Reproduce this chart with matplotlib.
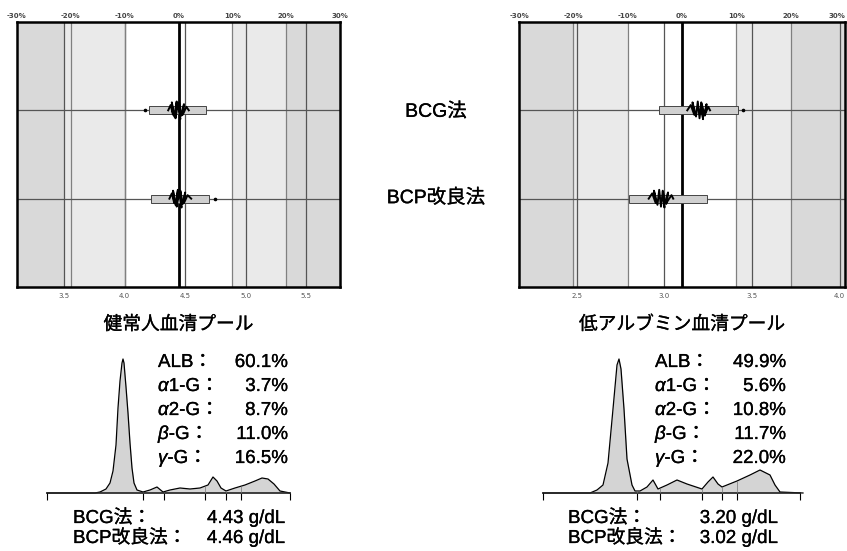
import numpy as np
import matplotlib
matplotlib.use('Agg')
import matplotlib.pyplot as plt
import matplotlib.patches as patches
import matplotlib.patheffects as pe

plt.rcParams['font.family'] = ['Liberation Sans', 'Noto Sans CJK JP']

# ---- data ----
pool_names = ['健常人血清プール', '低アルブミン血清プール']
methods = ['BCG法', 'BCP改良法']
targets = [4.445, 3.10]                     # value at 0 %
pct_ticks = [-30, -20, -10, 0, 10, 20, 30]
pct_lines = [-20, -10, 10, 20]
value_ticks = [[3.5, 4.0, 4.5, 5.0, 5.5], [2.5, 3.0, 3.5, 4.0]]
zones_pct = [[-30, -21.3, -10, 10, 20, 30], [-30, -20, -10, 10, 20, 30]]
zone_colors = ['#d9d9d9', '#eaeaea', 'white', '#eaeaea', '#d9d9d9']

# range boxes (min, max) and outlier, per pool
bcg_box = [(4.20, 4.67), (2.97, 3.42)]
bcp_box = [(4.22, 4.70), (2.80, 3.24)]
bcg_out = [4.17, 3.45]
bcp_out = [4.75, None]
# measured results (cluster) per pool
bcg_runs = [[4.36, 4.38, 4.40, 4.39, 4.41, 4.43, 4.42, 4.44, 4.46, 4.45, 4.47, 4.49, 4.48, 4.51, 4.53],
            [3.13, 3.15, 3.17, 3.16, 3.18, 3.19, 3.20, 3.21, 3.22, 3.21, 3.23, 3.24, 3.23, 3.25, 3.26]]
bcp_runs = [[4.37, 4.39, 4.41, 4.40, 4.42, 4.44, 4.43, 4.45, 4.47, 4.46, 4.48, 4.50, 4.49, 4.52, 4.55],
            [2.91, 2.93, 2.95, 2.94, 2.96, 2.97, 2.98, 2.99, 3.00, 2.99, 3.01, 3.02, 3.01, 3.04, 3.05]]
run_offsets = [0.0, 0.06, -0.05, 0.09, -0.07, 0.10, -0.09, 0.08, -0.10, 0.09, -0.06, 0.07, -0.05, 0.04, 0.0]

# densitometry traces (position, height)
ep_x = [[7, 55, 60, 66, 70, 73, 76, 78, 80, 82, 83, 84, 86, 88, 90, 92, 94, 97, 103, 110, 117, 123,
         130, 140, 150, 160, 168, 173, 177, 181, 186, 195, 205, 215, 222, 228, 234, 240, 250],
        [3, 50, 57, 63, 68, 73, 77, 79, 81, 84, 87, 92, 95, 100, 107, 113, 118, 127, 137, 147, 162,
         168, 173, 178, 182, 197, 210, 220, 230, 235, 240, 263]]
ep_h = [[0, 0, 1, 4, 10, 22, 48, 85, 112, 130, 134, 130, 106, 80, 50, 25, 10, 3, 1, 3, 6, 1,
         3, 5, 4, 5, 8, 16, 12, 5, 2, 5, 8, 12, 15, 14, 9, 2, 0],
        [0, 0, 3, 8, 30, 84, 128, 134, 124, 84, 34, 8, 2, 2, 6, 13, 4, 8, 13, 9, 4,
         11, 16, 9, 6, 12, 18, 23, 18, 8, 1, 0]]
ep_ticks = [[7, 103, 124, 165, 186, 201, 250], [3, 97, 120, 162, 182, 197, 260]]

fractions = ['ALB', 'α1-G', 'α2-G', 'β-G', 'γ-G']
frac_pct = [[60.1, 3.7, 8.7, 11.0, 16.5], [49.9, 5.6, 10.8, 11.7, 22.0]]
bcg_gdl = [4.43, 3.20]
bcp_gdl = [4.46, 3.02]

# ---- layout ----
W, H = 847, 551
fig = plt.figure(figsize=(W / 100, H / 100), dpi=100)
heavy = [pe.withStroke(linewidth=0.2, foreground='black')]


def px_axes(x0, y0, x1, y1):
    return fig.add_axes([x0 / W, 1 - y1 / H, (x1 - x0) / W, (y1 - y0) / H])


panel_px = [(17, 22, 340, 287), (519, 22, 845, 287)]
ep_px = [(40, 350, 300, 503), (540, 350, 810, 503)]
text_x = [(158, 288), (655, 786)]
res_x = [(73, 285), (568, 778)]
FS = 13.5

renderer = fig.canvas.get_renderer()


def put_row(x, y, pieces, size=FS):
    for s, it in pieces:
        t = fig.text(x / W, 1 - y / H, s, fontsize=size, ha='left', va='baseline',
                     style='italic' if it else 'normal', path_effects=heavy)
        x = t.get_window_extent(renderer).x1
    return x


for k in range(2):
    T = targets[k]

    def pv(p):
        return T * (1 + p / 100)

    ax = px_axes(*panel_px[k])
    ax.set_xlim(pv(-30), pv(30))
    ax.set_ylim(0, 3)
    z = zones_pct[k]
    for i in range(5):
        ax.axvspan(pv(z[i]), pv(z[i + 1]), color=zone_colors[i], lw=0, zorder=0)
    for v in value_ticks[k]:
        ax.axvline(v, color='#555555', lw=0.9, zorder=1)
    for p in pct_lines:
        ax.axvline(pv(p), color='#808080', lw=0.9, zorder=1)
    ax.axvline(pv(0), color='black', lw=2, zorder=2)
    for yy in (1, 2):
        ax.axhline(yy, color='#555555', lw=0.9, zorder=1)

    for row, box, out, runs in ((2, bcg_box[k], bcg_out[k], bcg_runs[k]),
                                (1, bcp_box[k], bcp_out[k], bcp_runs[k])):
        ax.add_patch(patches.Rectangle((box[0], row - 0.045), box[1] - box[0], 0.09,
                                       facecolor='#d0d0d0', edgecolor='#444444', lw=0.7, zorder=3))
        if out is not None:
            ax.plot(out, row, 'o', ms=1.6, color='black', zorder=4)
        ax.plot(runs, [row + o for o in run_offsets[:len(runs)]], color='black', lw=1.4, zorder=4)

    ax.set_xticks(value_ticks[k])
    ax.set_xticklabels([f'{v:.1f}' for v in value_ticks[k]], fontsize=5,
                       color='#555555', family='DejaVu Sans')
    ax.tick_params(axis='x', length=0, pad=4)
    ax.set_yticks([])
    for s in ax.spines.values():
        s.set_linewidth(1.8)

    top = ax.twiny()
    top.set_xlim(ax.get_xlim())
    top.set_xticks([pv(p) for p in pct_ticks])
    labels = top.set_xticklabels([f'{p}%' for p in pct_ticks], fontsize=5, color='#444444',
                                 family='DejaVu Sans', weight='bold')
    if k == 1:
        labels[-1].set_horizontalalignment('right')
    top.tick_params(axis='x', length=0, pad=2)
    for s in top.spines.values():
        s.set_visible(False)

    cx = (panel_px[k][0] + panel_px[k][2]) / 2
    fig.text(cx / W, 1 - 325 / H, pool_names[k], fontsize=13.5, ha='center', va='center',
             path_effects=heavy)

    # densitometry trace
    ea = px_axes(*ep_px[k])
    xs, hs = ep_x[k], ep_h[k]
    ea.fill_between(xs, hs, 0, color='#d4d4d4', lw=0)
    ea.plot(xs, hs, color='black', lw=0.9)
    tk = ep_ticks[k]
    ea.plot([tk[0], tk[-1]], [0, 0], color='#222222', lw=1.2)
    ea.vlines(tk, -7, 0, color='black', lw=0.8)
    ea.vlines(tk[1:-1], 0, np.interp(tk[1:-1], xs, hs), color='#777777', lw=0.5)
    ea.set_xlim(0, ep_px[k][2] - ep_px[k][0])
    ea.set_ylim(-10, 143)
    ea.axis('off')

    # fraction percentages
    for i, name in enumerate(fractions):
        y = 367 + 24 * i
        if name[0] in 'αβγ':
            pieces = [(name[0], True), (name[1:], False)]
        else:
            pieces = [(name, False)]
        put_row(text_x[k][0], y, pieces + [('：', False)])
        fig.text(text_x[k][1] / W, 1 - y / H, f'{frac_pct[k][i]:.1f}%', fontsize=FS,
                 ha='right', va='baseline', path_effects=heavy)

    # albumin results
    for j, (m, val) in enumerate(((methods[0], bcg_gdl[k]), (methods[1], bcp_gdl[k]))):
        y = 523 + 20 * j
        put_row(res_x[k][0], y, [(m + '：', False)])
        fig.text(res_x[k][1] / W, 1 - y / H, f'{val:.2f} g/dL', fontsize=FS,
                 ha='right', va='baseline', path_effects=heavy)

fig.text(436 / W, 1 - 112 / H, methods[0], fontsize=14, ha='center', va='center',
         path_effects=heavy)
fig.text(436 / W, 1 - 198 / H, methods[1], fontsize=14, ha='center', va='center',
         path_effects=heavy)

fig.savefig('out.png', dpi=100)
